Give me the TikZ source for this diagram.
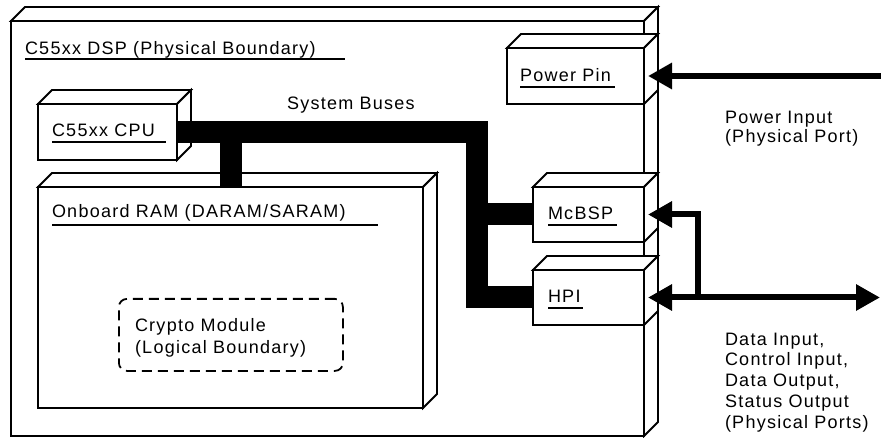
\documentclass[tikz,border=0pt]{standalone}
\usepackage{fontspec}
\setmainfont{Liberation Sans}[LetterSpace=7]
\usetikzlibrary{arrows.meta,calc}
\newcommand\drawdepth[1]{%
  \draw[face] (#1.north west) -- ++(14,-14) -- ($(#1.north east)+(14,-14)$) -- (#1.north east) -- cycle;
  \draw[face] (#1.north east) -- ++(14,-14) -- ($(#1.south east)+(14,-14)$) -- (#1.south east) -- cycle;}
\tikzset{
  box/.style={draw, fill=white, line width=1.8pt, inner sep=0pt, outer sep=0pt, anchor=north west},
  face/.style={draw, fill=white, line width=1.8pt, line join=miter},
  lbl/.style={inner sep=0pt, outer sep=0pt, anchor=base west, font=\fontsize{18}{20.5}\selectfont},
  uline/.style={line width=1.5pt},
  bus/.style={line width=22pt, line join=miter},
  port/.style={line width=6pt, line join=miter},
  tipb/.tip={Triangle[length=24pt,width=25pt]},
  crypto/.style={draw, dashed, dash pattern=on 10pt off 6pt, line width=1.8pt, rounded corners=8pt, inner sep=0pt, anchor=north west}
}
\begin{document}
\begin{tikzpicture}[x=1pt,y=-1pt]
\useasboundingbox (0,0) rectangle (881,438);
% DSP outer box
\node[box, minimum width=633pt, minimum height=415pt] (dsp) at (11,21) {};
\drawdepth{dsp}
% pins
\node[box, minimum width=137pt, minimum height=56pt] (pwr) at (507,48) {};
\drawdepth{pwr}
\node[box, minimum width=111pt, minimum height=55pt] (mcbsp) at (533,187) {};
\drawdepth{mcbsp}
\node[box, minimum width=111pt, minimum height=55pt] (hpi) at (533,270) {};
\drawdepth{hpi}
% CPU and RAM
\node[box, minimum width=139pt, minimum height=56pt] (cpu) at (38,104) {};
\drawdepth{cpu}
\node[box, minimum width=385pt, minimum height=221pt] (ram) at (38,187) {};
\drawdepth{ram}
% crypto module
\node[crypto, minimum width=224pt, minimum height=72pt] (crypt) at (118,298) {};
% buses
\coordinate (jn) at (477,132);
\coordinate (tap) at (231,132);
\draw[bus] (cpu.east) -- (jn) |- (hpi.west);
\draw[bus] (jn |- mcbsp.west) -- (mcbsp.west);
\draw[bus] (tap) -- (tap |- ram.north);
% labels
\node[lbl] (dsplbl) at (25,55) {C55xx DSP (Physical Boundary)};
\draw[uline] ($(dsplbl.base west)+(0,4)$) -- ++(320,0);
\node[lbl] (cpulbl) at (52,137) {C55xx CPU};
\draw[uline] ($(cpulbl.base west)+(0,5)$) -- ++(114,0);
\node[lbl] (buslbl) at (287,110) {System Buses};
\node[lbl] (ramlbl) at (52,218) {Onboard RAM (DARAM/SARAM)};
\draw[uline] ($(ramlbl.base west)+(0,7)$) -- ++(326,0);
\node[lbl] (pwrlbl) at (520,82) {Power Pin};
\draw[uline] ($(pwrlbl.base west)+(0,5)$) -- ++(95,0);
\node[lbl] (mcbsplbl) at (548,220) {McBSP};
\draw[uline] ($(mcbsplbl.base west)+(0,5)$) -- ++(69,0);
\node[lbl] (hpilbl) at (548,303) {HPI};
\draw[uline] ($(hpilbl.base west)+(0,5)$) -- ++(35,0);
\node[lbl, align=left, font=\fontsize{18}{22}\selectfont] (cryptlbl) at (135,353) {Crypto Module\\(Logical Boundary)};
\node[lbl, align=left, font=\fontsize{18}{19}\selectfont] (pwrin) at (725,143) {Power Input\\(Physical Port)};
\node[lbl, align=left, font=\fontsize{18}{20.7}\selectfont] (dataio) at (725,428) {Data Input,\\Control Input,\\Data Output,\\Status Output\\(Physical Ports)};
% ports
\coordinate (pwrsrc) at (881,76);
\draw[port, -tipb] (pwrsrc) -- ($(pwr.east)+(4,0)$);
\coordinate (dport) at (880,297.5);
\coordinate (split) at (698,297.5);
\draw[port, tipb-tipb] ($(hpi.east)+(4,0)$) -- (dport);
\draw[port, -tipb] (split) |- ($(mcbsp.east)+(4,0)$);
\end{tikzpicture}
\end{document}
